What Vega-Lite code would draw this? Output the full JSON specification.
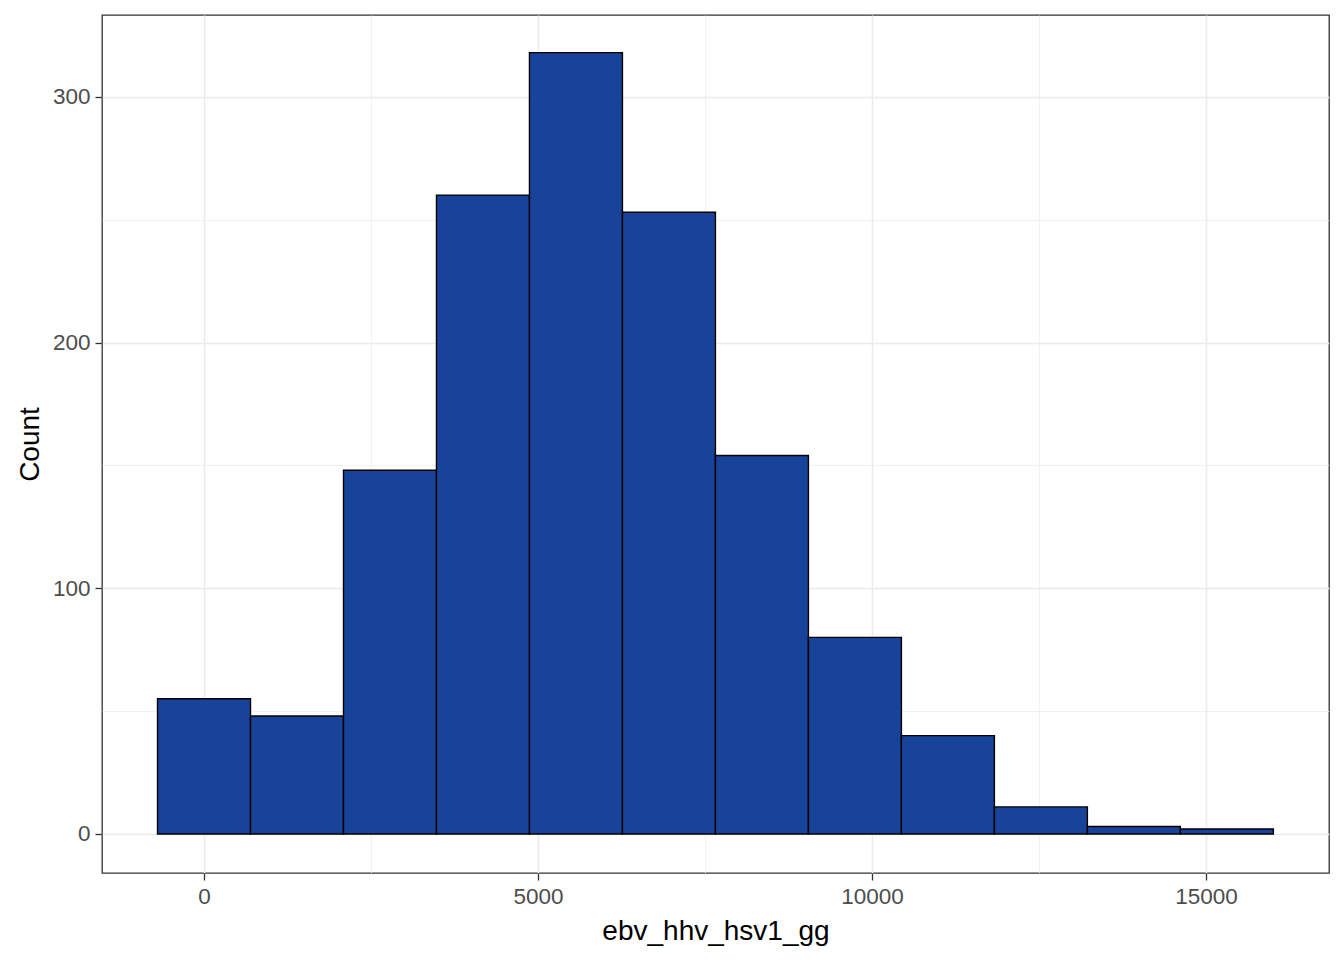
{
  "$schema": "https://vega.github.io/schema/vega-lite/v6.json",
  "width": 1227,
  "height": 858,
  "autosize": {"type": "none"},
  "padding": {"left": 102, "top": 15, "right": 15, "bottom": 87},
  "background": "white",
  "config": {
    "view": {"stroke": "#333333", "strokeWidth": 1.3},
    "axis": {
      "domain": false,
      "labelFont": "Liberation Sans",
      "titleFont": "Liberation Sans",
      "labelFontSize": 22.5,
      "titleFontSize": 28,
      "titleFontWeight": "normal",
      "labelColor": "#4d4d4d",
      "titleColor": "#000000",
      "tickColor": "#333333",
      "tickSize": 7,
      "tickWidth": 1.3,
      "labelPadding": 5
    }
  },
  "data": {
    "values": [
      {"start": -696, "end": 696, "count": 55},
      {"start": 696, "end": 2088, "count": 48},
      {"start": 2088, "end": 3480, "count": 148},
      {"start": 3480, "end": 4872, "count": 260},
      {"start": 4872, "end": 6264, "count": 318},
      {"start": 6264, "end": 7656, "count": 253},
      {"start": 7656, "end": 9048, "count": 154},
      {"start": 9048, "end": 10440, "count": 80},
      {"start": 10440, "end": 11832, "count": 40},
      {"start": 11832, "end": 13224, "count": 11},
      {"start": 13224, "end": 14616, "count": 3},
      {"start": 14616, "end": 16008, "count": 2}
    ]
  },
  "mark": {"type": "rect", "fill": "#18439a", "stroke": "#000000", "strokeWidth": 1.4},
  "encoding": {
    "x": {
      "field": "start",
      "type": "quantitative",
      "scale": {"domain": [-1527, 16841], "nice": false, "zero": false},
      "axis": {
        "title": "ebv_hhv_hsv1_gg",
        "values": [0, 2500, 5000, 7500, 10000, 12500, 15000],
        "labelExpr": "datum.value % 5000 === 0 ? datum.value : ''",
        "tickOpacity": {"condition": {"test": "datum.value % 5000 !== 0", "value": 0}, "value": 1},
        "gridColor": "#ebebeb",
        "gridWidth": {"condition": {"test": "datum.value % 5000 !== 0", "value": 0.7}, "value": 1.5},
        "titlePadding": 10
      }
    },
    "x2": {"field": "end"},
    "y": {
      "field": "count",
      "type": "quantitative",
      "scale": {"domain": [-15.9, 333.3], "nice": false, "zero": false},
      "axis": {
        "title": "Count",
        "values": [0, 50, 100, 150, 200, 250, 300],
        "labelExpr": "datum.value % 100 === 0 ? datum.value : ''",
        "tickOpacity": {"condition": {"test": "datum.value % 100 !== 0", "value": 0}, "value": 1},
        "gridColor": "#ebebeb",
        "gridWidth": {"condition": {"test": "datum.value % 100 !== 0", "value": 0.7}, "value": 1.5},
        "titlePadding": 8
      }
    },
    "y2": {"datum": 0}
  }
}
